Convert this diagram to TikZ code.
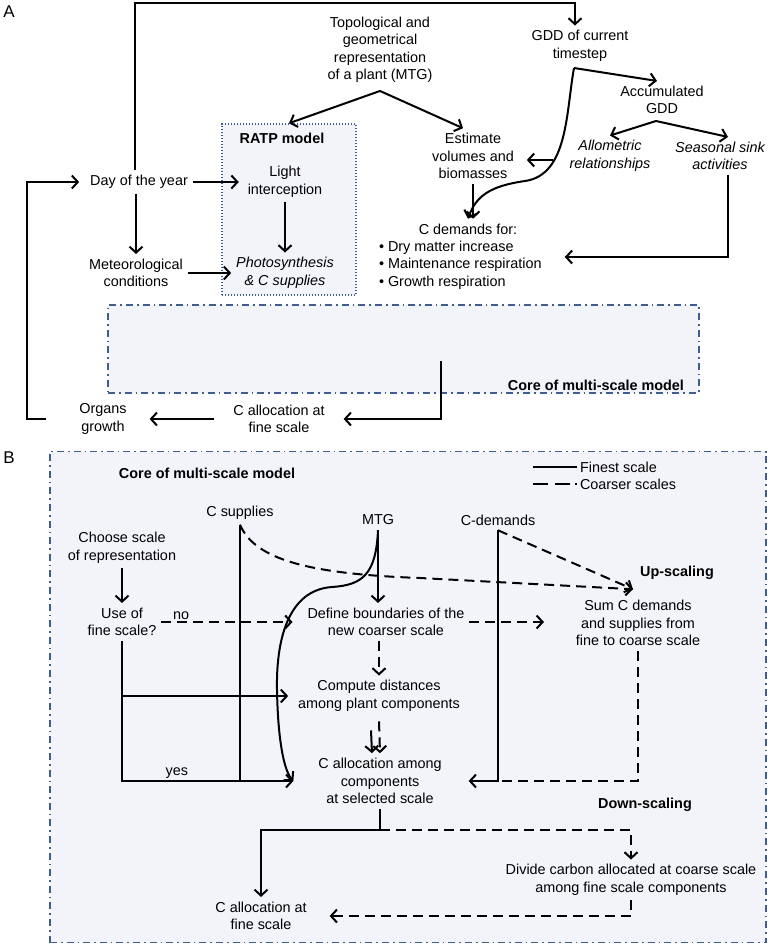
\documentclass[tikz,border=0pt]{standalone}
\usepackage{fontspec}
\setmainfont{Liberation Sans}
\usetikzlibrary{arrows.meta}
\definecolor{coreline}{RGB}{62,94,145}
\definecolor{corefill}{RGB}{243,244,250}
\begin{document}
\begin{tikzpicture}[x=1pt,y=-1pt,
  line width=2pt,
  main node/.style={align=center,inner sep=4pt,font=\fontsize{14.4}{17.5}\selectfont},
  it node/.style={main node,font=\fontsize{14.4}{17.5}\selectfont\itshape},
  bold node/.style={main node,font=\fontsize{14.4}{17.5}\selectfont\bfseries},
  core box/.style={draw=coreline,fill=corefill,line width=1.5pt,dash pattern=on 7pt off 4pt on 1.6pt off 4pt},
  ratp box/.style={draw=coreline,fill=corefill,line width=1.5pt,dash pattern=on 1.4pt off 1.6pt},
  arr/.style={-{Straight Barb[length=6pt,width=13pt]}},
  dash line/.style={dash pattern=on 10pt off 6pt}]
  \useasboundingbox (0,0) rectangle (776,945);

  \node[main node,font=\fontsize{17}{20}\selectfont] (labA) at (9,12) {A};
  \node[ratp box,minimum width=134pt,minimum height=171pt] (ratp) at (289,209.5) {};
  \node[core box,minimum width=591pt,minimum height=88pt] (coreA) at (403.5,349) {};
  \node[bold node,anchor=east] (coreAlbl) at (689,385) {Core of multi-scale model};

  \node[main node] (topo) at (380,50) {Topological and\\geometrical\\representation\\of a plant (MTG)};
  \node[main node] (gdd) at (580,46) {GDD of current\\timestep};
  \node[main node] (acc) at (662,100) {Accumulated\\GDD};
  \node[it node] (allo) at (610,156) {Allometric\\relationships};
  \node[it node] (seas) at (720,156) {Seasonal sink\\activities};
  \node[main node] (est) at (473,156) {Estimate\\volumes and\\biomasses};
  \node[main node] (dem) at (468,229) {C demands for:};
  \node[main node,align=left,anchor=west] (demlist) at (374,265) {\textbullet\ Dry matter increase\\\textbullet\ Maintenance respiration\\\textbullet\ Growth respiration};
  \node[bold node] (ratplbl) at (282,138) {RATP model};
  \node[main node] (light) at (285,182) {Light\\interception};
  \node[it node] (photo) at (285,273) {Photosynthesis\\\& C supplies};
  \node[main node] (day) at (139,182) {Day of the year};
  \node[main node] (met) at (136,273) {Meteorological\\conditions};
  \node[main node] (callocA) at (279,419) {C allocation at\\fine scale};
  \node[main node] (organs) at (103,419) {Organs\\growth};

  \coordinate (topL) at (135,3);
  \coordinate (topR) at (575,3);
  \coordinate (loopL) at (27,419);
  \coordinate (gddfoot) at (574,68);
  \coordinate (gddmid) at (553,160);
  \coordinate (estin) at ([xshift=8pt]est.east);
  \coordinate (accfoot) at (656,121);
  \coordinate (coreout) at (441,361);

  \draw[arr] (day.north -| topL) -- (topL) -- (topR) -- (gdd.north -| topR);
  \path[arr] ([yshift=-3pt]topo.south) edge (ratp.north) edge ([xshift=-10pt]est.north);
  \path[arr]
   (day.east) edge ([xshift=-4pt]day.east -| light.west)
   (day.south -| met) edge (met)
   (light) edge (photo)
   (met.east) edge (met.east -| photo.west);
  \draw[arr] (gddfoot) -- ([xshift=-5pt]acc.north);
  \draw[arr] (gddfoot) .. controls (566,112) and (568,175) .. (525,181) .. controls (490,186) and (476,196) .. (dem.north);
  \draw[arr] (gddmid) -- (gddmid -| estin);
  \draw[arr] (est.south) -- (est.south |- dem.north);
  \path[arr] (accfoot) edge (allo.north) edge ([xshift=8pt]seas.north);
  \draw[arr] ([xshift=8pt]seas.south) |- ([xshift=18pt,yshift=8pt]demlist.east);
  \draw[arr] (coreout) |- ([xshift=14pt]callocA.east);
  \draw[arr] ([xshift=-14pt]callocA.west) -- ([xshift=18pt]organs.east);
  \draw[arr] ([xshift=-28pt]organs.west) -- (loopL) |- ([xshift=-6pt]day.west);

  \node[main node,font=\fontsize{17}{20}\selectfont] (labB) at (9,458) {B};
  \node[core box,minimum width=716pt,minimum height=491pt] (coreB) at (408,697) {};
  \node[bold node] (coreBlbl) at (207,473) {Core of multi-scale model};
  \coordinate (leg1) at (533,467);
  \coordinate (leg2) at (533,484);
  \node[main node,anchor=west,inner sep=2pt] (finest) at (577,467) {Finest scale};
  \node[main node,anchor=west,inner sep=2pt] (coarser) at (577,484) {Coarser scales};
  \draw (leg1) -- (finest.west);
  \draw[dash pattern=on 15pt off 7pt on 15pt off 5pt on 2pt off 9pt] (leg2) -- (coarser.west);

  \node[main node] (csup) at (240,513) {C supplies};
  \node[main node] (mtg) at (378,520) {MTG};
  \node[main node] (cdem) at (498,520) {C-demands};
  \node[main node] (choose) at (122,548) {Choose scale\\of representation};
  \node[main node] (usefine) at (122,622) {Use of\\fine scale?};
  \node[main node] (define) at (386,622) {Define boundaries of the\\new coarser scale};
  \node[main node] (compute) at (379,696) {Compute distances\\among plant components};
  \node[main node] (callocB) at (380,781) {C allocation among\\components\\at selected scale};
  \node[bold node] (upscale) at (677,573) {Up-scaling};
  \node[main node] (sum) at (638,623) {Sum C demands\\and supplies from\\fine to coarse scale};
  \node[bold node] (downscale) at (645,805) {Down-scaling};
  \node[main node] (divide) at (631,880) {Divide carbon allocated at coarse scale\\among fine scale components};
  \node[main node] (callocF) at (261,916) {C allocation at\\fine scale};

  \coordinate (sumtop) at ([xshift=-5pt,yshift=6pt]sum.north);
  \coordinate (sumin) at ([xshift=-27pt]sum.west);
  \coordinate (split) at (380,830);

  \path[arr] (choose) edge (usefine);
  \draw[arr,dash line] (usefine.east) -- node[main node,pos=0.15,above,inner sep=1pt] (nolbl) {no} ([xshift=-10pt]define.west);
  \draw[arr] (usefine.south) |- node[main node,pos=0.66,above,inner sep=2pt] (yeslbl) {yes} ([xshift=-20pt]callocB.west);
  \draw[arr] (usefine.south |- compute.west) -- ([xshift=-5pt]compute.west);
  \draw (csup.south) -- (csup.south |- callocB.west);
  \draw[arr,dash line] (csup.south) .. controls (255,560) and (310,574) .. (420,578) -- (sumtop);
  \draw[arr,dash line] (cdem.south) -- (sumtop);
  \draw[arr] (cdem.south) |- ([xshift=22pt]callocB.east);
  \draw[dash line] (sum.south) |- (cdem.south |- callocB.east);
  \draw[arr] (mtg.south) .. controls (376,575) and (362,585) .. (332,587) .. controls (288,590) and (276,640) .. (277,690) .. controls (278,745) and (285,772) .. ([xshift=-20pt]callocB.west);
  \path[arr] (mtg.south) edge (mtg.south |- define.north);
  \path[arr,dash line] (define.south -| compute) edge (compute.north);
  \draw[arr,dash line] (define.east) -- (define.east -| sumin);
  \draw[arr] ([xshift=-8pt,yshift=-14pt]compute.south) -- ([xshift=-8pt]callocB.north);
  \draw[arr,dash line] ([yshift=-5pt]compute.south) -- (callocB.north);
  \draw[arr] (callocB.south) -- (split) -| (callocF.north);
  \draw[arr,dash line] (split) -| (divide.north);
  \draw[arr,dash line] (divide.south) |- ([xshift=18pt]callocF.east);
\end{tikzpicture}
\end{document}
